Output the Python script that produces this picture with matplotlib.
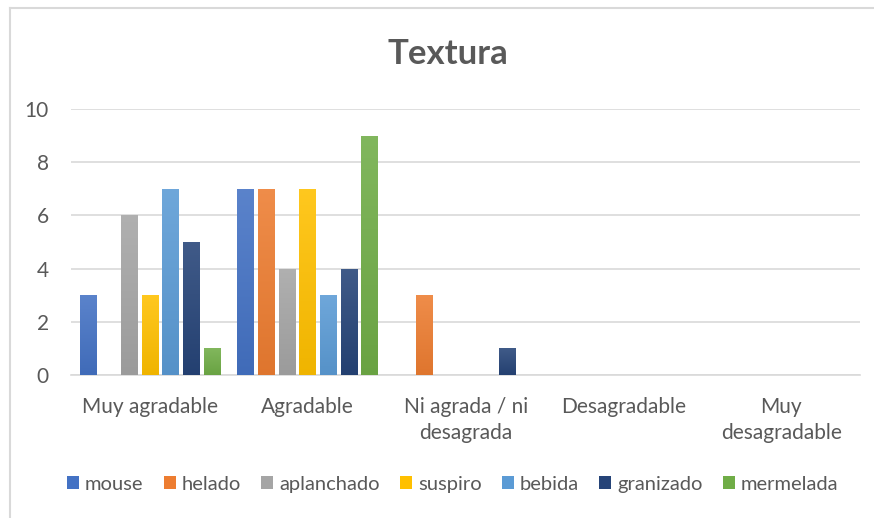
import matplotlib.pyplot as plt
import numpy as np
from matplotlib.colors import LinearSegmentedColormap, to_rgb

categories = ['Muy agradable', 'Agradable', 'Ni agrada / ni\ndesagrada', 'Desagradable', 'Muy\ndesagradable']
series_names = ['mouse', 'helado', 'aplanchado', 'suspiro', 'bebida', 'granizado', 'mermelada']
mouse = [3, 7, 0, 0, 0]
helado = [0, 7, 3, 0, 0]
aplanchado = [6, 4, 0, 0, 0]
suspiro = [3, 7, 0, 0, 0]
bebida = [7, 3, 0, 0, 0]
granizado = [5, 4, 1, 0, 0]
mermelada = [1, 9, 0, 0, 0]
series_values = [mouse, helado, aplanchado, suspiro, bebida, granizado, mermelada]
colors = ['#4472c4', '#ed7d31', '#a5a5a5', '#ffc000', '#5b9bd5', '#264478', '#70ad47']

plt.rcParams['font.family'] = ['Lato', 'DejaVu Sans']
text_color = '#595959'


def shade(c, f):
    r = np.array(to_rgb(c))
    if f > 0:
        return tuple(r + (1 - r) * f)
    return tuple(r * (1 + f))


fig = plt.figure(figsize=(8.74, 5.18), dpi=100)
ax = fig.add_axes([0.0812, 0.276, 0.903, 0.5135])

x = np.arange(len(categories))
step = 0.131
width = 0.105
for i, (name, vals, col) in enumerate(zip(series_names, series_values, colors)):
    offset = (i - 3) * step
    bars = ax.bar(x + offset, vals, width, color=col, label=name, zorder=3)
    # vertical gradient, lighter at the top like the original
    cmap = LinearSegmentedColormap.from_list(name, [shade(col, -0.06), shade(col, 0.12)])
    grad = np.linspace(0, 1, 64).reshape(-1, 1)
    for b in bars:
        if b.get_height() <= 0:
            continue
        x0, w, h = b.get_x(), b.get_width(), b.get_height()
        im = ax.imshow(grad, cmap=cmap, origin='lower', aspect='auto',
                       extent=(x0, x0 + w, 0, h), zorder=3.5)
        im.set_clip_path(b)

ax.set_xlim(-0.5, len(categories) - 0.5)
ax.set_ylim(0, 10)
ax.set_yticks(range(0, 11, 2))
ax.yaxis.grid(True, color='#d9d9d9', linewidth=1.2, zorder=0)
ax.set_axisbelow(True)
for s in ['top', 'right', 'left']:
    ax.spines[s].set_visible(False)
ax.spines['bottom'].set_color('#d9d9d9')
ax.spines['bottom'].set_linewidth(1.2)
ax.tick_params(axis='both', length=0, colors=text_color, labelsize=15)
ax.tick_params(axis='x', pad=16)
ax.tick_params(axis='y', pad=16)
ax.set_xticks(x)
ax.set_xticklabels(categories, color=text_color, linespacing=1.35)

fig.text(0.513, 0.895, 'Textura', ha='center', va='center', fontsize=25,
         fontweight='bold', color=text_color)

leg = fig.legend(loc='center', bbox_to_anchor=(0.518, 0.065), ncol=7, frameon=False,
                 fontsize=14.5, handlelength=0.6, handleheight=0.6, handletextpad=0.3,
                 columnspacing=1.0)
for t in leg.get_texts():
    t.set_color(text_color)

# chart area border (top and left visible)
fig.add_artist(plt.Line2D([0.011, 0.011], [0, 0.985], color='#d9d9d9', linewidth=1.5))
fig.add_artist(plt.Line2D([0.011, 1], [0.985, 0.985], color='#d9d9d9', linewidth=1.5))

fig.savefig('out.png', dpi=100)
